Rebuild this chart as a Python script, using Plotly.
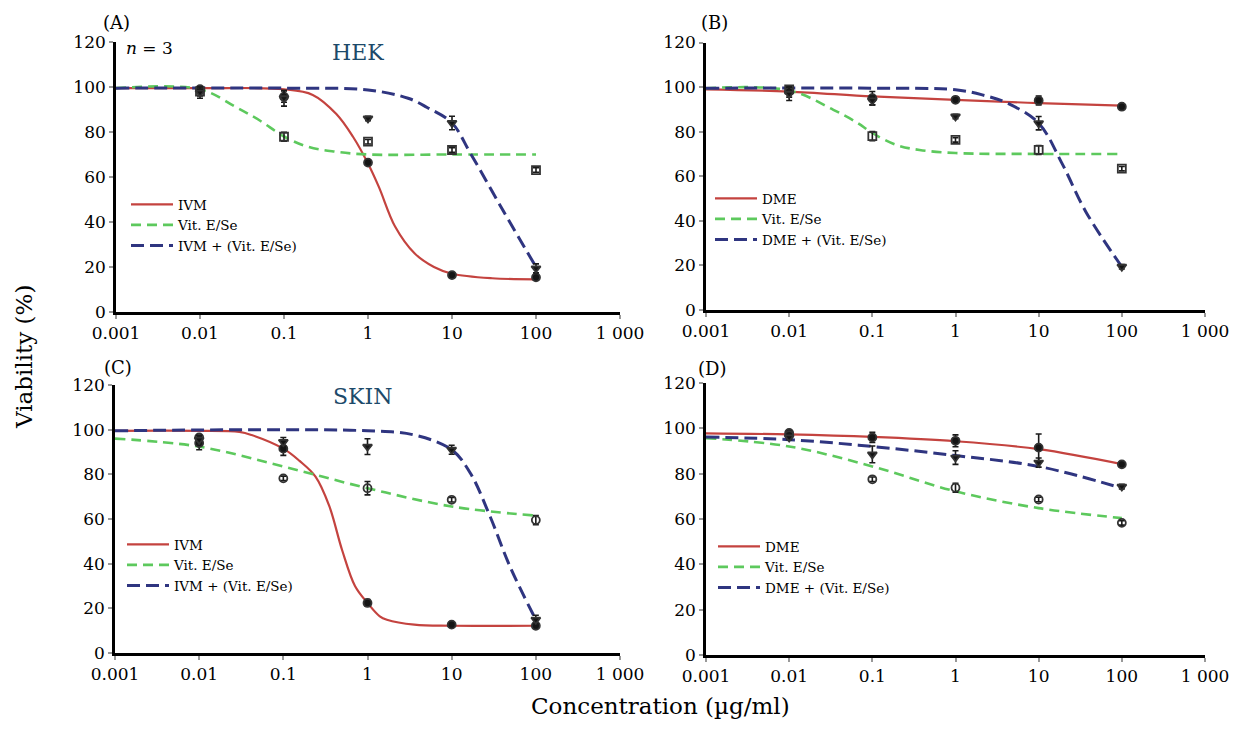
import plotly.graph_objects as go

# ---------------- data ----------------
conc = [0.01, 0.1, 1, 10, 100]
x_ticks = [0.001, 0.01, 0.1, 1, 10, 100, 1000]
x_ticklabels = ["0.001", "0.01", "0.1", "1", "10", "100", "1 000"]
y_ticks = [0, 20, 40, 60, 80, 100, 120]

# Panel A - HEK, IVM
a_names = ["IVM", "Vit. E/Se", "IVM + (Vit. E/Se)"]
a_ivm = [99, 95.7, 66.4, 16.4, 15.4]
a_ivm_err = [1, 2.5, 1, 1, 1]
a_vit = [98, 77.9, 75.7, 72, 63.1]
a_vit_err = [2, 2, 1, 1, 1]
a_comb = [97.5, 95, 86, 84, 19.4]
a_comb_err = [2.5, 3.5, 1, 3, 2]
a_ivm_fit_x = [0.001, 0.01, 0.1, 0.22, 0.42, 0.66, 1, 1.35, 2.1, 3.6, 6.1, 10, 30, 100]
a_ivm_fit_y = [99.5, 99.5, 99, 96.5, 88, 78, 66, 55.5, 38, 26, 20, 17, 15, 14.5]
a_vit_fit_x = [0.001, 0.01, 0.027, 0.052, 0.1, 0.19, 0.4, 1, 10, 100]
a_vit_fit_y = [99.5, 99, 91, 85, 78, 73.5, 71.3, 70, 70, 70]
a_comb_fit_x = [0.001, 0.1, 1, 3, 5, 10, 16.6, 40.7, 100]
a_comb_fit_y = [99.5, 99.5, 98.7, 95, 91, 84, 70.5, 45, 20]

# Panel B - HEK, DME
b_names = ["DME", "Vit. E/Se", "DME + (Vit. E/Se)"]
b_dme = [98, 95, 94.3, 94, 91.2]
b_dme_err = [2.5, 3, 1, 2, 1]
b_vit = [99, 78, 76.3, 71.8, 63.4]
b_vit_err = [1, 2, 1, 2, 1]
b_comb = [97, 94, 86.8, 83.8, 19.4]
b_comb_err = [3, 2, 1, 3, 1]
b_dme_fit_x = [0.001, 0.01, 0.1, 1, 10, 100]
b_dme_fit_y = [99, 98, 95.8, 94.3, 92.8, 91.7]
b_vit_fit_x = [0.001, 0.01, 0.034, 0.066, 0.1, 0.195, 0.37, 1, 10, 100]
b_vit_fit_y = [99.5, 98.5, 89.8, 84, 79.4, 74, 71.8, 70.4, 70, 70]
b_comb_fit_x = [0.001, 0.1, 1, 2.1, 4.2, 10, 19, 37, 100]
b_comb_fit_y = [99.5, 99.5, 98.8, 96.5, 92.8, 83.8, 65.9, 44, 19.4]

# Panel C - SKIN, IVM
c_names = ["IVM", "Vit. E/Se", "IVM + (Vit. E/Se)"]
c_ivm = [94, 91.5, 22.4, 12.7, 12.2]
c_ivm_err = [3, 3, 1.5, 1, 1]
c_vit = [96.5, 78.2, 73.8, 68.6, 59.5]
c_vit_err = [1, 1, 3, 1, 2]
c_comb = [95.5, 94.5, 92.4, 91, 14.9]
c_comb_err = [2, 2, 3.5, 2, 2]
c_ivm_fit_x = [0.001, 0.01, 0.03, 0.042, 0.1, 0.156, 0.241, 0.35, 0.5, 0.71, 1, 1.4, 1.7, 3.6, 10, 100]
c_ivm_fit_y = [99.5, 99.5, 99, 97.6, 91.5, 86, 79, 66, 46, 30, 22.4, 16.4, 14.9, 12.7, 12.2, 12.2]
c_vit_fit_x = [0.001, 0.01, 0.1, 1, 10, 100]
c_vit_fit_y = [96, 92.4, 83.5, 73.8, 65.6, 61.5]
c_comb_fit_x = [0.001, 1, 3.6, 10, 16.7, 28.7, 49.3, 100]
c_comb_fit_y = [99.5, 99.5, 97.6, 91, 80.5, 61, 38.7, 14.9]

# Panel D - SKIN, DME
d_names = ["DME", "Vit. E/Se", "DME + (Vit. E/Se)"]
d_dme = [98, 96, 94.5, 91.5, 84.1]
d_dme_err = [1, 2.2, 2.6, 6, 1]
d_vit = [97, 77.5, 73.8, 68.6, 58.3]
d_vit_err = [1, 1, 2, 1, 1]
d_comb = [96, 88.5, 87.1, 84.9, 74.3]
d_comb_err = [1, 3.7, 3, 2, 1]
d_dme_fit_x = [0.001, 0.01, 0.1, 1, 10, 100]
d_dme_fit_y = [97.8, 97.3, 96.2, 94.3, 90.8, 84.2]
d_vit_fit_x = [0.001, 0.01, 0.1, 1, 10, 100]
d_vit_fit_y = [95.7, 92, 83.2, 72.2, 64.8, 60.4]
d_comb_fit_x = [0.001, 0.01, 0.1, 1, 10, 100]
d_comb_fit_y = [96.2, 95, 92, 88, 83.2, 73.6]

# ---------------- style ----------------
RED = "#c4433f"
GREEN = "#5dc95d"
BLUE = "#2f3580"
FONT = "DejaVu Serif"
W, H = 1248, 740
OFF = 8  # page body margin

panels = [
    dict(ax="", names=a_names, fits=[(a_ivm_fit_x, a_ivm_fit_y), (a_vit_fit_x, a_vit_fit_y), (a_comb_fit_x, a_comb_fit_y)],
         pts=[(a_ivm, a_ivm_err), (a_vit, a_vit_err), (a_comb, a_comb_err)], legend="legend", vit_sym="square-open"),
    dict(ax="2", names=b_names, fits=[(b_dme_fit_x, b_dme_fit_y), (b_vit_fit_x, b_vit_fit_y), (b_comb_fit_x, b_comb_fit_y)],
         pts=[(b_dme, b_dme_err), (b_vit, b_vit_err), (b_comb, b_comb_err)], legend="legend2", vit_sym="square-open"),
    dict(ax="3", names=c_names, fits=[(c_ivm_fit_x, c_ivm_fit_y), (c_vit_fit_x, c_vit_fit_y), (c_comb_fit_x, c_comb_fit_y)],
         pts=[(c_ivm, c_ivm_err), (c_vit, c_vit_err), (c_comb, c_comb_err)], legend="legend3", vit_sym="circle-open"),
    dict(ax="4", names=d_names, fits=[(d_dme_fit_x, d_dme_fit_y), (d_vit_fit_x, d_vit_fit_y), (d_comb_fit_x, d_comb_fit_y)],
         pts=[(d_dme, d_dme_err), (d_vit, d_vit_err), (d_comb, d_comb_err)], legend="legend4", vit_sym="circle-open"),
]

line_styles = [
    dict(color=RED, width=2.2, dash="solid"),
    dict(color=GREEN, width=2.6, dash="10px,6px"),
    dict(color=BLUE, width=3, dash="13px,6px"),
]

fig = go.Figure()
for p in panels:
    xa, ya = "x" + p["ax"], "y" + p["ax"]
    for i, (fx, fy) in enumerate(p["fits"]):
        fig.add_trace(go.Scatter(x=fx, y=fy, mode="lines", line=dict(shape="spline", smoothing=1.0, **line_styles[i]),
                                 name=p["names"][i], legend=p["legend"], xaxis=xa, yaxis=ya, hoverinfo="skip"))
    syms = ["circle", p["vit_sym"], "triangle-down"]
    for i, (vals, errs) in enumerate(p["pts"]):
        open_sym = syms[i].endswith("open")
        fig.add_trace(go.Scatter(
            x=conc, y=vals, mode="markers", showlegend=False, xaxis=xa, yaxis=ya,
            marker=dict(symbol=syms[i], size=8,
                        color="#333333" if open_sym else "#151515",
                        line=dict(width=1.8, color="#333333")),
            error_y=dict(type="data", array=errs, visible=True, color="#1a1a1a", thickness=1.6, width=3),
        ))

def px(x):
    return (x - OFF) / W

def py(y):
    return 1 - (y - OFF) / H

# axis domains in screen pixels
dom = {
    "": ((116, 620), (42, 312)),
    "2": ((706, 1205), (42.5, 310)),
    "3": ((115, 620), (385, 653)),
    "4": ((706, 1205), (383, 655)),
}
axis_common_x = dict(type="log", range=[-3, 3], tickvals=x_ticks, ticktext=x_ticklabels,
                     showline=True, linecolor="black", linewidth=2.6, ticks="outside", ticklen=4,
                     tickcolor="#999999", tickwidth=1.5, showgrid=False, zeroline=False, automargin=False,
                     tickfont=dict(family=FONT, size=17, color="black"))
axis_common_y = dict(range=[0, 120], tickvals=y_ticks, showline=True, linecolor="black", linewidth=2.6,
                     ticks="outside", ticklen=4, tickcolor="#999999", tickwidth=1.5, showgrid=False,
                     zeroline=False, automargin=False, tickfont=dict(family=FONT, size=17, color="black"))
layout = {}
for k, ((x0, x1), (y0, y1)) in dom.items():
    layout["xaxis" + k] = dict(axis_common_x, domain=[px(x0), px(x1)], anchor="y" + k)
    layout["yaxis" + k] = dict(axis_common_y, domain=[py(y1), py(y0)], anchor="x" + k)

leg_common = dict(font=dict(family=FONT, size=13.5, color="black"), bgcolor="rgba(0,0,0,0)",
                  borderwidth=0, xanchor="left", yanchor="top", tracegroupgap=0, itemwidth=42)
legpos = {"legend": (126, 189), "legend2": (710, 183), "legend3": (122, 529), "legend4": (713, 531)}
for name, (lx, ly) in legpos.items():
    layout[name] = dict(leg_common, x=px(lx), y=py(ly))

def ann(text, x, y, size, color="black", xanchor="center"):
    return dict(text=text, x=px(x), y=py(y), xref="paper", yref="paper", showarrow=False,
                xanchor=xanchor, yanchor="middle", font=dict(family=FONT, size=size, color=color))

annotations = [
    ann("(A)", 116, 22, 18), ann("(B)", 714, 22, 18), ann("(C)", 118, 367, 18), ann("(D)", 712, 368, 18),
    ann("<i>n</i> = 3", 124, 48, 17, xanchor="left"),
    ann("HEK", 358, 52, 22, color="#1d4a6a"),
    ann("SKIN", 362, 397, 22, color="#1d4a6a"),
    ann("Concentration (µg/ml)", 660, 706, 23),
    dict(text="Viability (%)", x=px(24), y=py(357), xref="paper", yref="paper", showarrow=False,
         textangle=-90, xanchor="center", yanchor="middle", font=dict(family=FONT, size=23, color="black")),
]

fig.update_layout(width=W, height=H, margin=dict(l=0, r=0, t=0, b=0, autoexpand=False), paper_bgcolor="white",
                  plot_bgcolor="white", annotations=annotations, **layout)

fig.write_html("out.html")
